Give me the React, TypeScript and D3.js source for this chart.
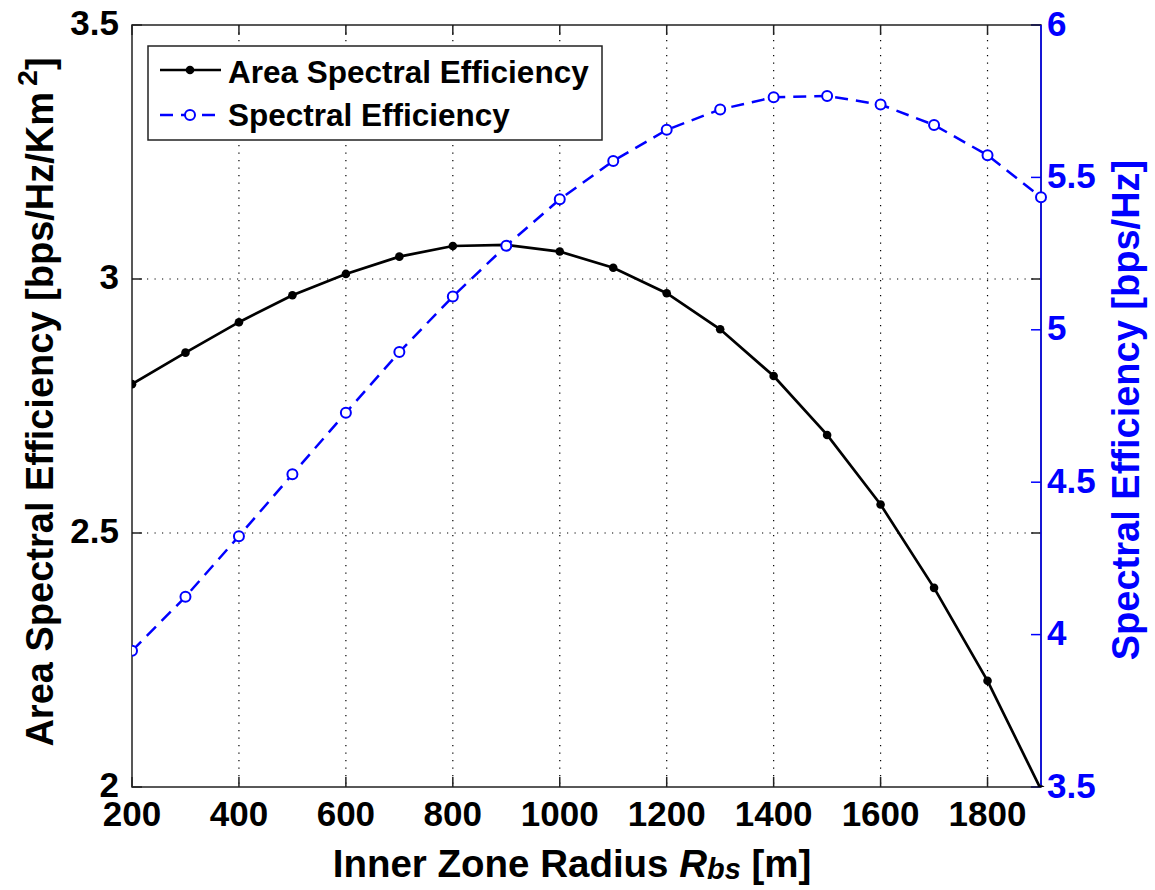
import React from "react";
import * as d3 from "d3";

const radius = [200, 300, 400, 500, 600, 700, 800, 900, 1000, 1100, 1200, 1300, 1400, 1500, 1600, 1700, 1800, 1900];
const aseValues = [2.793, 2.855, 2.915, 2.968, 3.010, 3.044, 3.065, 3.067, 3.054, 3.022, 2.972, 2.901, 2.809, 2.693, 2.556, 2.392, 2.209, 1.995];
const seValues = [3.947, 4.124, 4.323, 4.526, 4.728, 4.927, 5.109, 5.276, 5.428, 5.554, 5.656, 5.723, 5.763, 5.767, 5.739, 5.672, 5.573, 5.435];
const xTicks = [200, 400, 600, 800, 1000, 1200, 1400, 1600, 1800];
const leftTicks = [2, 2.5, 3, 3.5];
const rightTicks = [3.5, 4, 4.5, 5, 5.5, 6];
const seriesNames = ["Area Spectral Efficiency", "Spectral Efficiency"];

const W = 1155, H = 890;
const L = 132, R = 1041, T = 25, B = 787;
const FONT = "'Liberation Sans', Arial, sans-serif";
const BLUE = "#0000ff";

export default function App() {
  const x = d3.scaleLinear().domain([200, 1900]).range([L, R]);
  const yL = d3.scaleLinear().domain([2, 3.5]).range([B, T]);
  const yR = d3.scaleLinear().domain([3.5, 6]).range([B, T]);
  const fmt = d3.format("");

  const aseLine = d3.line<number>().x((_, i) => x(radius[i])).y((d) => yL(d));
  const seLine = d3.line<number>().x((_, i) => x(radius[i])).y((d) => yR(d));

  const tickFs = 35;
  const labFs = 38;
  const legFs = 31.5;
  const tl = 10;

  return (
    <svg width={W} height={H} style={{ position: "absolute", left: 0, top: 0, background: "#fff" }} fontFamily={FONT}>
      <defs>
        <clipPath id="plotclip">
          <rect x={L} y={T - 10} width={R - L + 10} height={B - T + 10} />
        </clipPath>
      </defs>
      <rect x={0} y={0} width={W} height={H} fill="#fff" />
      {/* grid */}
      {xTicks.filter((t) => t !== 200).map((t) => (
        <line key={"gx" + t} x1={x(t)} x2={x(t)} y1={T} y2={B} stroke="#000" strokeWidth={1.2} strokeDasharray="1.2,6.3" />
      ))}
      {leftTicks.filter((t) => t !== 2 && t !== 3.5).map((t) => (
        <line key={"gy" + t} x1={L} x2={R} y1={yL(t)} y2={yL(t)} stroke="#000" strokeWidth={1.2} strokeDasharray="1.2,6.3" />
      ))}
      {/* ticks */}
      {xTicks.map((t) => (
        <g key={"tx" + t}>
          <line x1={x(t)} x2={x(t)} y1={B} y2={B - tl} stroke="#222" strokeWidth={1.5} />
          <line x1={x(t)} x2={x(t)} y1={T} y2={T + tl} stroke="#222" strokeWidth={1.5} />
          <text x={x(t)} y={826} textAnchor="middle" fontSize={tickFs} fontWeight="bold" fill="#000">{fmt(t)}</text>
        </g>
      ))}
      {leftTicks.map((t) => (
        <g key={"ty" + t}>
          <line x1={L} x2={L + tl} y1={yL(t)} y2={yL(t)} stroke="#222" strokeWidth={1.5} />
          <line x1={R} x2={R - tl} y1={yL(t)} y2={yL(t)} stroke="#222" strokeWidth={1.5} />
          <text x={119} y={yL(t) - 3 + tickFs * 0.358} textAnchor="end" fontSize={tickFs} fontWeight="bold" fill="#000">{fmt(t)}</text>
        </g>
      ))}
      {rightTicks.map((t) => (
        <g key={"tr" + t}>
          <line x1={R} x2={R - tl} y1={yR(t)} y2={yR(t)} stroke={BLUE} strokeWidth={1.5} />
          <text x={1047} y={yR(t) - 2 + tickFs * 0.358} textAnchor="start" fontSize={tickFs} fontWeight="bold" fill={BLUE}>{fmt(t)}</text>
        </g>
      ))}
      {/* axes box */}
      <rect x={L} y={T} width={R - L} height={B - T} fill="none" stroke="#222" strokeWidth={1.5} />
      <line x1={R} x2={R} y1={T} y2={B} stroke={BLUE} strokeWidth={1.5} />

      {/* data */}
      <g clipPath="url(#plotclip)">
        <path d={aseLine(aseValues) || ""} fill="none" stroke="#000" strokeWidth={2.7} />
        {aseValues.map((v, i) => (
          <circle key={"a" + i} cx={x(radius[i])} cy={yL(v)} r={4.3} fill="#000" />
        ))}
        <path d={seLine(seValues) || ""} fill="none" stroke={BLUE} strokeWidth={2.5} strokeDasharray="13,8" />
        {seValues.map((v, i) => (
          <circle key={"s" + i} cx={x(radius[i])} cy={yR(v)} r={5} fill="#fff" stroke={BLUE} strokeWidth={2} />
        ))}
      </g>

      {/* legend */}
      <rect x={148} y={46} width={454} height={94} fill="#fff" stroke="#222" strokeWidth={1.5} />
      <line x1={160} x2={221} y1={70} y2={70} stroke="#000" strokeWidth={2.7} />
      <circle cx={190} cy={70} r={4.3} fill="#000" />
      <text x={228} y={83} fontSize={legFs} fontWeight="bold" fill="#000">{seriesNames[0]}</text>
      <line x1={160} x2={221} y1={115} y2={115} stroke={BLUE} strokeWidth={2.5} strokeDasharray="13,8" />
      <circle cx={190} cy={115} r={5} fill="#fff" stroke={BLUE} strokeWidth={2} />
      <text x={228} y={126} fontSize={legFs} fontWeight="bold" fill="#000">{seriesNames[1]}</text>

      {/* axis labels */}
      <text x={572} y={877} textAnchor="middle" fontSize={38.5} fontWeight="bold" fill="#000">
        Inner Zone Radius <tspan fontStyle="italic">R</tspan><tspan fontStyle="italic" fontSize={38.5 * 0.75} dy={2}>bs</tspan><tspan dy={-2}> [m]</tspan>
      </text>
      <text transform={`translate(53,402) rotate(-90)`} textAnchor="middle" fontSize={labFs} fontWeight="bold" fill="#000">
        Area Spectral Efficiency [bps/Hz/Km<tspan fontSize={labFs * 0.75} dy={-16} dx={6}>2</tspan><tspan dy={16}>]</tspan>
      </text>
      <text transform={`translate(1139,410) rotate(-90)`} textAnchor="middle" fontSize={labFs} fontWeight="bold" fill={BLUE}>
        Spectral Efficiency [bps/Hz]
      </text>
    </svg>
  );
}
